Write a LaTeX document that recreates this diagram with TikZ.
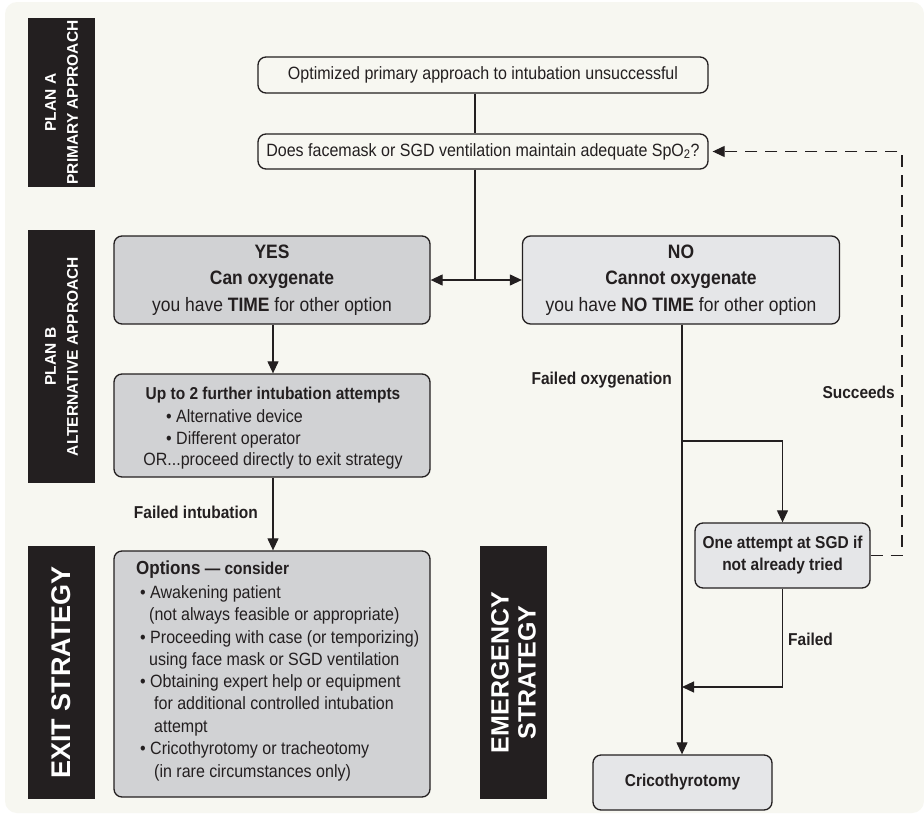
\documentclass[tikz,border=0pt]{standalone}
\usepackage{fontspec}
\setmainfont{Liberation Sans}[FakeStretch=0.9]
\newfontfamily\blkfont{Liberation Sans}
\usetikzlibrary{arrows.meta}
\definecolor{bgc}{HTML}{F7F7F1}
\definecolor{ink}{HTML}{231F20}
\definecolor{greyA}{HTML}{D1D2D4}
\definecolor{greyB}{HTML}{E5E6E8}
\tikzset{
  box/.style={draw=ink, line width=1.3pt, rounded corners=8pt, inner sep=0pt, align=center, text=ink},
  blk/.style={fill=ink, text=white, rotate=90, inner sep=0pt, align=center},
  conn/.style={draw=ink, line width=1.2pt},
  arr/.style={conn, -{Triangle[length=12pt,width=11pt]}},
  lab/.style={inner sep=0pt, text=ink, text height=12.5pt, text depth=0pt},
  bodyf/.style={font=\fontsize{17.8}{22.4}\selectfont},
  boldf/.style={font=\fontsize{17.2}{22}\selectfont\bfseries},
}
\begin{document}
\begin{tikzpicture}[x=1pt,y=-1pt]
\useasboundingbox (0,0) rectangle (924,814);
\fill[white] (0,0) rectangle (924,814);
\fill[bgc, rounded corners=12pt] (5,2) rectangle (924,813);

% side labels
\node[blk, minimum width=169pt, minimum height=67pt, font=\blkfont\fontsize{15.5}{22}\selectfont\bfseries] (pa) at (61.5,102.5) {PLAN A\\PRIMARY APPROACH};
\node[blk, minimum width=253pt, minimum height=67pt, font=\blkfont\fontsize{15.5}{22}\selectfont\bfseries] (pb) at (61.5,356.5) {PLAN B\\ALTERNATIVE APPROACH};
\node[blk, minimum width=253pt, minimum height=67pt, font=\blkfont\fontsize{27}{30}\selectfont\bfseries] (ex) at (61.5,672.5) {EXIT STRATEGY};
\node[blk, minimum width=253pt, minimum height=67pt, font=\blkfont\fontsize{25}{27}\selectfont\bfseries] (em) at (513.5,672.5) {EMERGENCY\\STRATEGY};

% boxes
\node[box, fill=bgc, minimum width=450pt, minimum height=36pt, bodyf] (b1) at (483,75) {Optimized primary approach to intubation unsuccessful};
\node[box, fill=bgc, minimum width=450pt, minimum height=35pt, bodyf] (b2) at (483,151.5) {Does facemask or SGD ventilation maintain adequate SpO\textsubscript{2}?};
\node[box, fill=greyA, minimum width=316pt, minimum height=88pt, font=\fontsize{19.4}{26.5}\selectfont] (yes) at (272,280) {\textbf{YES}\\\textbf{Can oxygenate}\\you have \textbf{TIME} for other option};
\node[box, fill=greyB, minimum width=317pt, minimum height=88pt, font=\fontsize{19.4}{26.5}\selectfont] (no) at (681,280) {\textbf{NO}\\\textbf{Cannot oxygenate}\\you have \textbf{NO TIME} for other option};
\node[box, fill=greyA, minimum width=316pt, minimum height=103pt] (up) at (272,425.5) {};
\node[box, fill=greyA, minimum width=316pt, minimum height=246pt] (op) at (272,674) {};
\node[box, fill=greyB, minimum width=175pt, minimum height=65pt, boldf] (sgd) at (782.5,555.5) {One attempt at SGD if\\not already tried};
\node[box, fill=greyB, minimum width=179pt, minimum height=55pt, boldf] (cr) at (682.5,782.5) {Cricothyrotomy};

% text in "Up to" box
\node[lab, boldf] (u1) at (273,393) {Up to 2 further intubation attempts};
\node[lab, bodyf, anchor=west] (u2) at (166,416) {• Alternative device};
\node[lab, bodyf, anchor=west] (u3) at (166,438) {• Different operator};
\node[lab, bodyf] (u4) at (273,459) {OR...proceed directly to exit strategy};

% text in Options box
\node[lab, anchor=west, font=\bfseries] (o0) at (136,568) {\fontsize{18.9}{20}\selectfont Options\fontsize{17.2}{20}\selectfont{} — consider};
\node[lab, bodyf, anchor=west] (o1) at (140,592) {• Awakening patient};
\node[lab, bodyf, anchor=west] (o2) at (149,614) {(not always feasible or appropriate)};
\node[lab, bodyf, anchor=west] (o3) at (140,637) {• Proceeding with case (or temporizing)};
\node[lab, bodyf, anchor=west] (o4) at (149,659) {using face mask or SGD ventilation};
\node[lab, bodyf, anchor=west] (o5) at (140,681) {• Obtaining expert help or equipment};
\node[lab, bodyf, anchor=west] (o6) at (154,703) {for additional controlled intubation};
\node[lab, bodyf, anchor=west] (o7) at (154,726) {attempt};
\node[lab, bodyf, anchor=west] (o8) at (140,748) {• Cricothyrotomy or tracheotomy};
\node[lab, bodyf, anchor=west] (o9) at (154,771) {(in rare circumstances only)};

% connector labels
\node[lab, boldf, anchor=east] (lfi) at (258,512) {Failed intubation};
\node[lab, boldf, anchor=east] (lfo) at (672,378) {Failed oxygenation};
\node[lab, boldf, anchor=east] (lsu) at (895,392) {Succeeds};
\node[lab, boldf, anchor=west] (lfa) at (788,639) {Failed};

% coordinates
\coordinate (j) at (475,280);
\coordinate (br) at (682,441);
\coordinate (mg) at (682,687);
\coordinate (dc) at (902,151.5);

% connectors
\draw[conn] (b1.south -| j) -- (b2.north -| j);
\draw[conn] (b2.south -| j) -- (j);
\draw[arr] (j) -- (yes.east);
\draw[arr] (j) -- (no.west);
\draw[arr] (yes.south -| u1) -- (up.north -| u1);
\draw[arr] (up.south -| u1) -- (op.north -| u1);
\draw[arr] (no.south -| br) -- (cr.north -| br);
\draw[arr] (br) -| (sgd.north);
\draw[arr] (sgd.south) |- (mg);
\draw[arr, dash pattern=on 12pt off 8pt, shorten >=4pt] (sgd.east) -| (dc) -- (b2.east);
\end{tikzpicture}
\end{document}
